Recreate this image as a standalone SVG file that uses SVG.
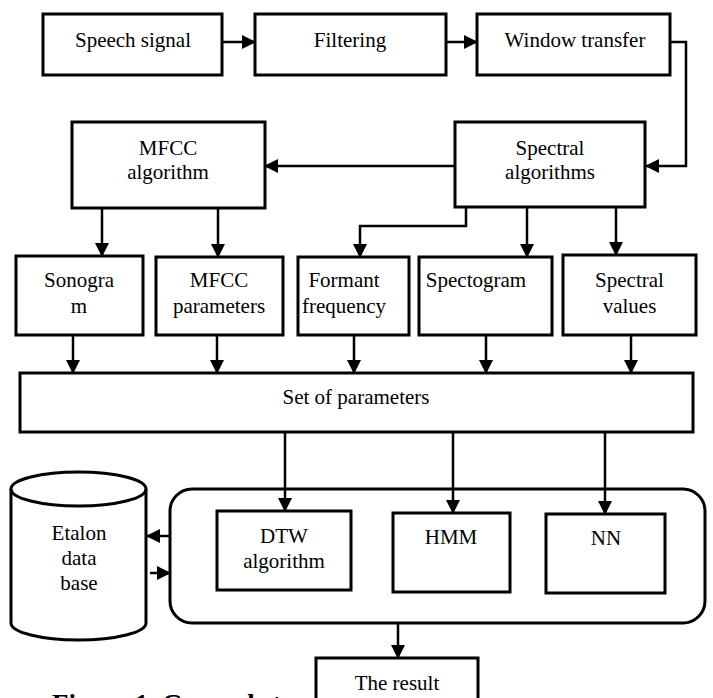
<svg xmlns="http://www.w3.org/2000/svg" width="713" height="698" viewBox="0 0 713 698">
<defs>
<style>
.box{fill:#fff;stroke:#000;stroke-width:3}
.t{font-family:"Liberation Serif","Times New Roman",serif;font-size:21px;fill:#000;text-anchor:middle}
.cap{font-family:"Liberation Serif","Times New Roman",serif;font-size:27px;font-weight:bold;fill:#000}
.c{fill:none;stroke:#000;stroke-width:2.5;marker-end:url(#ah)}
</style>
<marker id="ah" viewBox="0 0 14 14" refX="13" refY="7" markerWidth="14" markerHeight="14" markerUnits="userSpaceOnUse" orient="auto">
<path d="M0,0 L14,7 L0,14 z" fill="#000"/>
</marker>
</defs>
<rect width="713" height="698" fill="#fff"/>
<text class="cap" x="52" y="713">Figure 1. General st</text>
<g id="classifiers"><rect class="box" x="170" y="489" width="535" height="134" rx="22" ry="22"/></g>
<g id="connectors">
<path class="c" d="M222,42 H255"/>
<path class="c" d="M446,42 H477"/>
<path class="c" d="M670,42 H686 V166 H646"/>
<path class="c" d="M455,166 H265"/>
<path class="c" d="M102,208 V256"/>
<path class="c" d="M218,208 V257"/>
<path class="c" d="M466,207 V226 H360 V257"/>
<path class="c" d="M527,207 V257"/>
<path class="c" d="M616,207 V255"/>
<path class="c" d="M73,335 V373"/>
<path class="c" d="M217,335 V373"/>
<path class="c" d="M354,335 V373"/>
<path class="c" d="M486,335 V373"/>
<path class="c" d="M631,335 V373"/>
<path class="c" d="M285,432 V511"/>
<path class="c" d="M453,432 V513"/>
<path class="c" d="M605,432 V514"/>
<path class="c" d="M170,536 H147"/>
<path class="c" d="M150,573 H170"/>
<path class="c" d="M398,622 V658"/>
</g>
<g id="speech"><rect class="box" x="43" y="14" width="179" height="61"/><text class="t" x="133" y="47">Speech signal</text></g>
<g id="filtering"><rect class="box" x="255" y="14" width="191" height="61"/><text class="t" x="350" y="47">Filtering</text></g>
<g id="window"><rect class="box" x="477" y="14" width="193" height="61"/><text class="t" x="575" y="47">Window transfer</text></g>
<g id="mfcc"><rect class="box" x="72" y="122" width="193" height="86"/><text class="t" x="168" y="155">MFCC</text><text class="t" x="168" y="179">algorithm</text></g>
<g id="spectral"><rect class="box" x="455" y="122" width="190" height="85"/><text class="t" x="550" y="155">Spectral</text><text class="t" x="550" y="179">algorithms</text></g>
<g id="sonogram"><rect class="box" x="16" y="256" width="127" height="79"/><text class="t" x="79" y="287">Sonogra</text><text class="t" x="79" y="313">m</text></g>
<g id="mfccparams"><rect class="box" x="156" y="257" width="127" height="78"/><text class="t" x="219" y="287">MFCC</text><text class="t" x="219" y="313">parameters</text></g>
<g id="formant"><rect class="box" x="298" y="257" width="111" height="78"/><text class="t" x="344" y="287">Formant</text><text class="t" x="344" y="313">frequency</text></g>
<g id="spectogram"><rect class="box" x="419" y="257" width="133" height="78"/><text class="t" x="476" y="287">Spectogram</text></g>
<g id="spectralvalues"><rect class="box" x="563" y="255" width="133" height="80"/><text class="t" x="629.5" y="287">Spectral</text><text class="t" x="629.5" y="313">values</text></g>
<g id="setparams"><rect class="box" x="20" y="373" width="673" height="59"/><text class="t" x="356" y="404">Set of parameters</text></g>
<g id="etalon"><path class="box" d="M11,489 A67.5,17 0 0 1 146,489 V623 A67.5,17 0 0 1 11,623 Z"/><path d="M11,489 A67.5,17 0 0 0 146,489" fill="none" stroke="#000" stroke-width="3"/><text class="t" x="79" y="540">Etalon</text><text class="t" x="79" y="565">data</text><text class="t" x="79" y="590">base</text></g>
<g id="dtw"><rect class="box" x="217" y="511" width="134" height="79"/><text class="t" x="284" y="543">DTW</text><text class="t" x="284" y="568">algorithm</text></g>
<g id="hmm"><rect class="box" x="393" y="513" width="117" height="79"/><text class="t" x="451" y="544">HMM</text></g>
<g id="nn"><rect class="box" x="546" y="514" width="119" height="79"/><text class="t" x="606" y="545">NN</text></g>
<g id="result"><rect class="box" x="316" y="658" width="162" height="60"/><text class="t" x="397" y="690">The result</text></g>
</svg>
